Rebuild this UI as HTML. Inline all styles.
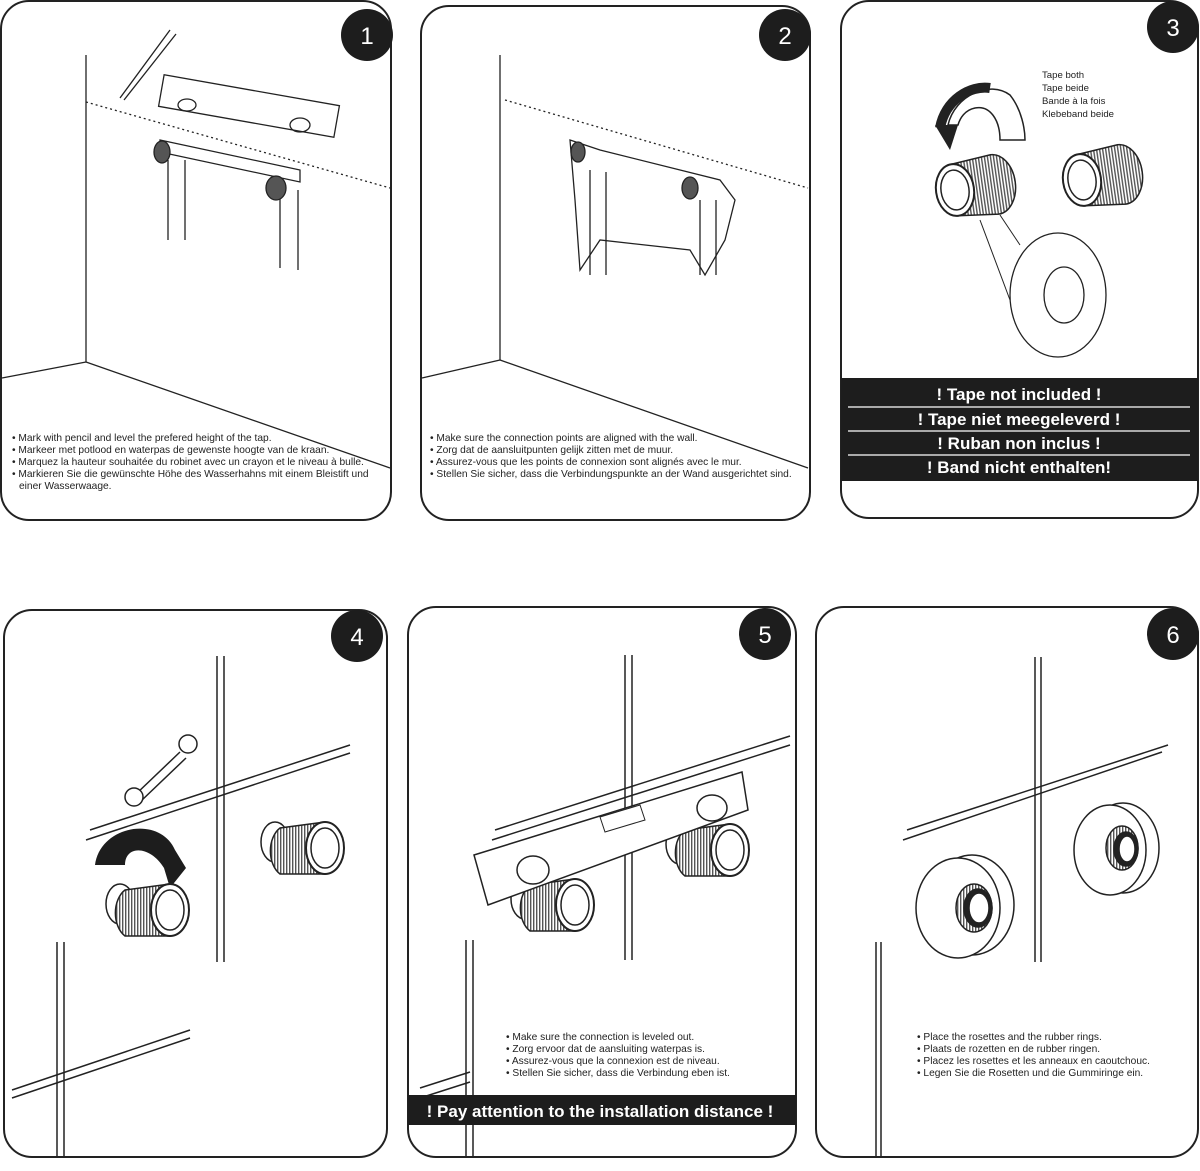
<!DOCTYPE html>
<html><head><meta charset="utf-8"><style>
html,body{margin:0;padding:0;background:#fff}
svg{display:block}
text{font-family:"Liberation Sans",sans-serif}
.t{font-size:10.2px;fill:#222}
.w{fill:#fff;font-weight:bold;text-anchor:middle}
</style></head><body>
<svg width="1200" height="1171" viewBox="0 0 1200 1171" xmlns="http://www.w3.org/2000/svg">
<defs>
<pattern id="thr" width="3" height="3" patternUnits="userSpaceOnUse"><rect width="3" height="3" fill="#fff"/><rect width="1.4" height="3" fill="#555"/></pattern>
<g id="fit">
 <path d="M0,-26 L40,-30 A18,26 0 0 1 40,30 L0,26 Z" fill="url(#thr)" stroke="#222" stroke-width="1.5"/>
 <ellipse cx="0" cy="0" rx="19" ry="26" fill="#fff" stroke="#222" stroke-width="2"/>
 <ellipse cx="0" cy="0" rx="14" ry="20" fill="#fff" stroke="#222" stroke-width="1.5"/>
</g>
<g id="fitr">
 <ellipse cx="-50" cy="-6" rx="14" ry="20" fill="#fff" stroke="#222" stroke-width="1.5"/>
 <path d="M0,-26 L-45,-20 A18,26 0 0 0 -45,26 L0,26 Z" fill="url(#thr)" stroke="#222" stroke-width="1.5"/>
 <ellipse cx="0" cy="0" rx="19" ry="26" fill="#fff" stroke="#222" stroke-width="2"/>
 <ellipse cx="0" cy="0" rx="14" ry="20" fill="#fff" stroke="#222" stroke-width="1.5"/>
</g>
</defs>
<g fill="none" stroke="#222" stroke-width="2">
 <rect x="1" y="1" width="390" height="519" rx="28"/>
 <rect x="421" y="6" width="389" height="514" rx="28"/>
 <rect x="841" y="1" width="357" height="517" rx="28"/>
 <rect x="4" y="610" width="383" height="547" rx="28"/>
 <rect x="408" y="607" width="388" height="550" rx="28"/>
 <rect x="816" y="607" width="382" height="550" rx="28"/>
</g>
<g fill="#1d1d1d">
 <circle cx="367" cy="35" r="26"/><circle cx="785" cy="35" r="26"/><circle cx="1173" cy="27" r="26"/>
 <circle cx="357" cy="636" r="26"/><circle cx="765" cy="634" r="26"/><circle cx="1173" cy="634" r="26"/>
</g>
<g fill="#fff" font-size="24" text-anchor="middle" font-family="Liberation Sans">
 <text x="367" y="44">1</text><text x="785" y="44">2</text><text x="1173" y="36">3</text>
 <text x="357" y="645">4</text><text x="765" y="643">5</text><text x="1173" y="643">6</text>
</g>
<!-- panel 1 -->
<g stroke="#222" stroke-width="1.3" fill="none">
 <line x1="86" y1="55" x2="86" y2="362"/>
 <line x1="2" y1="378" x2="86" y2="362"/>
 <line x1="86" y1="362" x2="390" y2="468"/>
 <line x1="86" y1="102" x2="390" y2="188" stroke-dasharray="2,3"/>
 <line x1="170" y1="30" x2="120" y2="98"/><line x1="176" y1="34" x2="124" y2="100"/>
 <rect x="160" y="90" width="178" height="32" transform="rotate(10 249 106)" fill="#fff"/>
 <ellipse cx="187" cy="105" rx="9" ry="6"/><ellipse cx="300" cy="125" rx="10" ry="7"/>
 <path d="M160,140 L300,170 L300,182 L160,152 Z" fill="#fff"/>
 <line x1="168" y1="160" x2="168" y2="240"/><line x1="185" y1="160" x2="185" y2="240"/>
 <line x1="280" y1="190" x2="280" y2="268"/><line x1="298" y1="190" x2="298" y2="270"/>
 <ellipse cx="162" cy="152" rx="8" ry="11" fill="#555"/><ellipse cx="276" cy="188" rx="10" ry="12" fill="#555"/>
</g>
<text class="t"><tspan x="12" y="441">• Mark with pencil and level the prefered height of the tap.</tspan><tspan x="12" y="453">• Markeer met potlood en waterpas de gewenste hoogte van de kraan.</tspan><tspan x="12" y="465">• Marquez la hauteur souhaitée du robinet avec un crayon et le niveau à bulle.</tspan><tspan x="12" y="477">• Markieren Sie die gewünschte Höhe des Wasserhahns mit einem Bleistift und</tspan><tspan x="19" y="489">einer Wasserwaage.</tspan></text>
<!-- panel 2 -->
<g stroke="#222" stroke-width="1.3" fill="none">
 <line x1="500" y1="55" x2="500" y2="360"/>
 <line x1="422" y1="378" x2="500" y2="360"/>
 <line x1="500" y1="360" x2="808" y2="468"/>
 <line x1="505" y1="100" x2="808" y2="188" stroke-dasharray="2,3"/>
 <path d="M570,140 L600,150 L720,180 L735,200 L725,240 L705,275 L690,250 L600,240 L580,270 L575,200 Z" fill="#fff"/>
 <line x1="590" y1="170" x2="590" y2="275"/><line x1="606" y1="172" x2="606" y2="275"/>
 <line x1="700" y1="200" x2="700" y2="275"/><line x1="716" y1="200" x2="716" y2="275"/>
 <ellipse cx="578" cy="152" rx="7" ry="10" fill="#555"/><ellipse cx="690" cy="188" rx="8" ry="11" fill="#555"/>
</g>
<text class="t"><tspan x="430" y="441">• Make sure the connection points are aligned with the wall.</tspan><tspan x="430" y="453">• Zorg dat de aansluitpunten gelijk zitten met de muur.</tspan><tspan x="430" y="465">• Assurez-vous que les points de connexion sont alignés avec le mur.</tspan><tspan x="430" y="477">• Stellen Sie sicher, dass die Verbindungspunkte an der Wand ausgerichtet sind.</tspan></text>
<!-- panel 3 -->
<text font-size="9.6" fill="#222" font-family="Liberation Sans"><tspan x="1042" y="78">Tape both</tspan><tspan x="1042" y="91">Tape beide</tspan><tspan x="1042" y="104">Bande à la fois</tspan><tspan x="1042" y="117">Klebeband beide</tspan></text>
<path d="M935,125 L958,125 L950,150 Z" fill="#222"/>
<path d="M948,125 C955,95 990,80 1010,95 C1022,110 1025,130 1025,140 L1000,140 C1000,120 990,105 975,108 C965,110 960,118 958,125 Z" fill="#fff" stroke="#222" stroke-width="1.5"/>
<path d="M940,128 C945,100 970,85 990,88" fill="none" stroke="#222" stroke-width="10"/>
<use href="#fit" x="955" y="190" transform="rotate(-8 955 190)"/>
<use href="#fit" x="1082" y="180" transform="rotate(-8 1082 180)"/>
<ellipse cx="1058" cy="295" rx="48" ry="62" fill="#fff" stroke="#222" stroke-width="1.3"/>
<ellipse cx="1064" cy="295" rx="20" ry="28" fill="#fff" stroke="#222" stroke-width="1.3"/>
<line x1="980" y1="220" x2="1010" y2="300" stroke="#222"/><line x1="1000" y1="215" x2="1020" y2="245" stroke="#222"/>
<rect x="841" y="378" width="357" height="103" fill="#1d1d1d"/>
<g stroke="#fff" stroke-width="1.2"><line x1="848" y1="407" x2="1190" y2="407"/><line x1="848" y1="431" x2="1190" y2="431"/><line x1="848" y1="455" x2="1190" y2="455"/></g>
<g font-size="17"><text x="1019" y="400" class="w">! Tape not included !</text><text x="1019" y="425" class="w">! Tape niet meegeleverd !</text><text x="1019" y="449" class="w">! Ruban non inclus !</text><text x="1019" y="473" class="w">! Band nicht enthalten!</text></g>
<!-- panel 4 -->
<g stroke="#222" stroke-width="1.5" fill="none">
 <line x1="217" y1="656" x2="217" y2="962"/><line x1="224" y1="656" x2="224" y2="962"/>
 <line x1="90" y1="830" x2="350" y2="745"/><line x1="86" y1="840" x2="350" y2="753"/>
 <line x1="57" y1="942" x2="57" y2="1157"/><line x1="64" y1="942" x2="64" y2="1157"/>
 <line x1="12" y1="1090" x2="190" y2="1030"/><line x1="12" y1="1098" x2="190" y2="1038"/>
 <path d="M135,795 L180,752 M141,801 L186,758"/><circle cx="134" cy="797" r="9" fill="#fff"/><circle cx="188" cy="744" r="9" fill="#fff"/>
</g>
<path d="M95,865 C100,825 160,815 175,850 L186,868 L170,888 L164,868 C150,845 125,845 125,865 Z" fill="#1d1d1d"/>
<use href="#fitr" x="170" y="910"/>
<use href="#fitr" x="325" y="848"/>
<!-- panel 5 -->
<g stroke="#222" stroke-width="1.5" fill="none">
 <line x1="625" y1="655" x2="625" y2="960"/><line x1="632" y1="655" x2="632" y2="960"/>
 <line x1="495" y1="830" x2="790" y2="736"/><line x1="492" y1="840" x2="790" y2="745"/>
 <line x1="466" y1="940" x2="466" y2="1157"/><line x1="473" y1="940" x2="473" y2="1157"/>
 <line x1="420" y1="1088" x2="470" y2="1072"/><line x1="420" y1="1098" x2="470" y2="1082"/>
</g>
<use href="#fitr" x="575" y="905"/>
<use href="#fitr" x="730" y="850"/>
<path d="M474,855 L742,772 L748,810 L488,905 Z" fill="#fff" stroke="#222" stroke-width="1.5"/>
<path d="M600,817 L640,805 L645,820 L605,832 Z" fill="none" stroke="#222"/>
<ellipse cx="533" cy="870" rx="16" ry="14" fill="#fff" stroke="#222" stroke-width="1.5"/><ellipse cx="712" cy="808" rx="15" ry="13" fill="#fff" stroke="#222" stroke-width="1.5"/>
<text class="t"><tspan x="506" y="1040">• Make sure the connection is leveled out.</tspan><tspan x="506" y="1052">• Zorg ervoor dat de aansluiting waterpas is.</tspan><tspan x="506" y="1064">• Assurez-vous que la connexion est de niveau.</tspan><tspan x="506" y="1076">• Stellen Sie sicher, dass die Verbindung eben ist.</tspan></text>
<rect x="408" y="1095" width="388" height="30" fill="#1d1d1d"/>
<text x="600" y="1117" font-size="17" class="w">! Pay attention to the installation distance !</text>
<!-- panel 6 -->
<g stroke="#222" stroke-width="1.5" fill="none">
 <line x1="1035" y1="657" x2="1035" y2="962"/><line x1="1041" y1="657" x2="1041" y2="962"/>
 <line x1="907" y1="830" x2="1168" y2="745"/><line x1="903" y1="840" x2="1162" y2="752"/>
 <line x1="876" y1="942" x2="876" y2="1157"/><line x1="881" y1="942" x2="881" y2="1157"/>
</g>
<g stroke="#222" stroke-width="1.5">
 <ellipse cx="972" cy="905" rx="42" ry="50" fill="#fff"/><ellipse cx="958" cy="908" rx="42" ry="50" fill="#fff"/>
 <ellipse cx="974" cy="908" rx="18" ry="24" fill="url(#thr)"/><ellipse cx="978" cy="908" rx="14" ry="19" fill="#222"/><ellipse cx="979" cy="908" rx="10" ry="15" fill="#fff"/>
 <ellipse cx="1123" cy="848" rx="36" ry="45" fill="#fff"/><ellipse cx="1110" cy="850" rx="36" ry="45" fill="#fff"/>
 <ellipse cx="1122" cy="848" rx="16" ry="22" fill="url(#thr)"/><ellipse cx="1126" cy="849" rx="12" ry="17" fill="#222"/><ellipse cx="1127" cy="849" rx="8" ry="13" fill="#fff"/>
</g>
<text class="t"><tspan x="917" y="1040">• Place the rosettes and the rubber rings.</tspan><tspan x="917" y="1052">• Plaats de rozetten en de rubber ringen.</tspan><tspan x="917" y="1064">• Placez les rosettes et les anneaux en caoutchouc.</tspan><tspan x="917" y="1076">• Legen Sie die Rosetten und die Gummiringe ein.</tspan></text>
</svg>
</body></html>
